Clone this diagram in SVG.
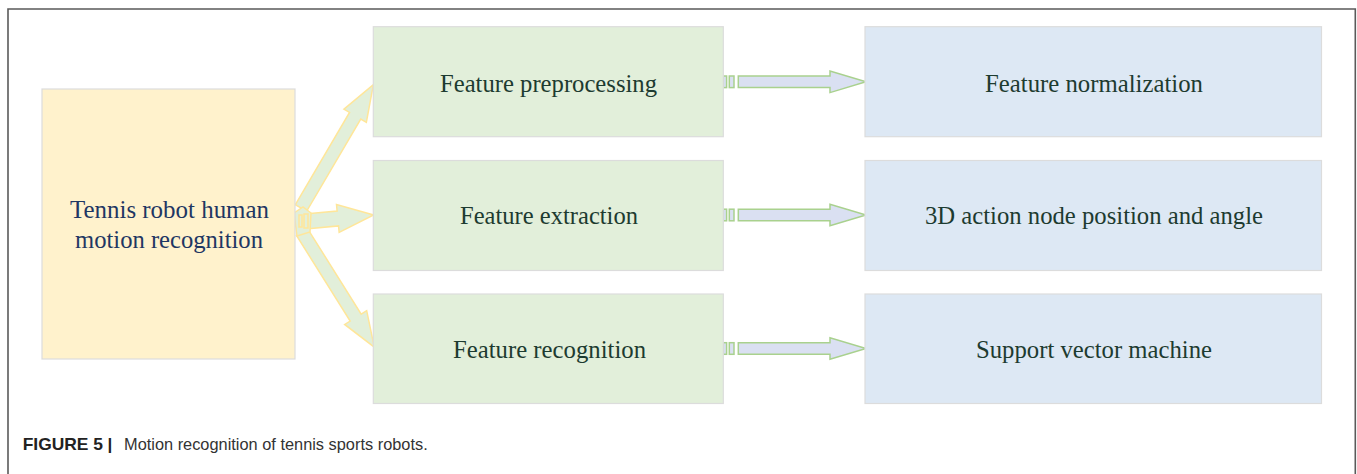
<svg xmlns="http://www.w3.org/2000/svg" width="1357" height="474" viewBox="0 0 1357 474">
<defs>
<style>
.box{stroke:#dcdcdc;stroke-width:1.2}
.y{fill:#fff2cc}
.g{fill:#e2efda}
.b{fill:#dde8f4}
.t{font-family:"Liberation Serif","Times New Roman",serif;font-size:26px;text-anchor:middle}
.tg{fill:#1d3b30}
.tn{fill:#1f3763}
.ra{fill:#dae0f2;stroke:#a9d18e;stroke-width:1.5}
.la{fill:#e2efda;stroke:#ffe699;stroke-width:1.5;stroke-linejoin:miter}
.cap{font-family:"Liberation Sans",Arial,sans-serif;font-size:17px}
</style>
</defs>
<rect width="1357" height="474" fill="#ffffff"/>
<path d="M8,474 V9 H1355.3 V474" fill="none" stroke="#5a5a5a" stroke-width="1.6"/>

<g id="connectors">
  <g transform="translate(301,208) rotate(-59.6)"><path class="la" d="M0,-6.5 L107,-6.5 L107,-13 L143,0 L107,13 L107,6.5 L0,6.5 Z"/></g>
  <g transform="translate(300,222) rotate(-5.4)"><path class="la" d="M0,-7.5 L38,-7.5 L38,-14 L74,0 L38,14 L38,7.5 L0,7.5 Z"/></g>
  <g transform="translate(302,232) rotate(57.9)"><path class="la" d="M0,-6.5 L101,-6.5 L101,-13 L136,0 L101,13 L101,6.5 L0,6.5 Z"/></g>
  <polygon class="la" points="294,213 303,207 311,213 310,232 297,236"/>
  <rect class="la" x="299" y="215" width="3" height="12" stroke-width="1"/>
  <rect class="la" x="304" y="214" width="4" height="14" stroke-width="1"/>

  <g id="arrow-1">
    <rect class="ra" x="723.3" y="76" width="3.3" height="11.6"/>
    <rect class="ra" x="729.3" y="76" width="4.7" height="11.6"/>
    <polygon class="ra" points="738.3,76 830,76 830,71 866,81.8 830,92.6 830,87.6 738.3,87.6"/>
  </g>
  <g id="arrow-2">
    <rect class="ra" x="723.3" y="209.2" width="3.3" height="11.6"/>
    <rect class="ra" x="729.3" y="209.2" width="4.7" height="11.6"/>
    <polygon class="ra" points="738.3,209.2 830,209.2 830,204.2 866,215 830,225.8 830,220.8 738.3,220.8"/>
  </g>
  <g id="arrow-3">
    <rect class="ra" x="723.3" y="342.7" width="3.3" height="11.6"/>
    <rect class="ra" x="729.3" y="342.7" width="4.7" height="11.6"/>
    <polygon class="ra" points="738.3,342.7 830,342.7 830,337.7 866,348.5 830,359.3 830,354.3 738.3,354.3"/>
  </g>
</g>

<g id="node-main">
  <rect class="box y" x="42" y="89" width="253" height="270"/>
  <text class="t tn" x="169.5" y="218" textLength="199" lengthAdjust="spacingAndGlyphs">Tennis robot human</text>
  <text class="t tn" x="169" y="248" textLength="188" lengthAdjust="spacingAndGlyphs">motion recognition</text>
</g>

<g id="node-preprocessing">
  <rect class="box g" x="373.3" y="26.7" width="350" height="110"/>
  <text class="t tg" x="548.5" y="91.5" textLength="217" lengthAdjust="spacingAndGlyphs">Feature preprocessing</text>
</g>
<g id="node-extraction">
  <rect class="box g" x="373.3" y="160.5" width="350" height="110"/>
  <text class="t tg" x="549" y="224" textLength="178" lengthAdjust="spacingAndGlyphs">Feature extraction</text>
</g>
<g id="node-recognition">
  <rect class="box g" x="373.3" y="294" width="350" height="109.5"/>
  <text class="t tg" x="549.5" y="357.5" textLength="193" lengthAdjust="spacingAndGlyphs">Feature recognition</text>
</g>

<g id="node-normalization">
  <rect class="box b" x="865" y="26.7" width="456.5" height="110"/>
  <text class="t tg" x="1094" y="91.5" textLength="218" lengthAdjust="spacingAndGlyphs">Feature normalization</text>
</g>
<g id="node-3d">
  <rect class="box b" x="865" y="160.5" width="456.5" height="110"/>
  <text class="t tg" x="1094" y="224" textLength="338" lengthAdjust="spacingAndGlyphs">3D action node position and angle</text>
</g>
<g id="node-svm">
  <rect class="box b" x="865" y="294" width="456.5" height="109.5"/>
  <text class="t tg" x="1094" y="357.5" textLength="236" lengthAdjust="spacingAndGlyphs">Support vector machine</text>
</g>

<g id="caption">
  <text class="cap" x="22.7" y="450" font-weight="bold" fill="#222" textLength="80.3" lengthAdjust="spacingAndGlyphs">FIGURE 5</text>
  <text class="cap" x="107.5" y="450" font-weight="bold" fill="#222">|</text>
  <text class="cap" x="124" y="450" fill="#333" textLength="303.7" lengthAdjust="spacingAndGlyphs">Motion recognition of tennis sports robots.</text>
</g>
</svg>
